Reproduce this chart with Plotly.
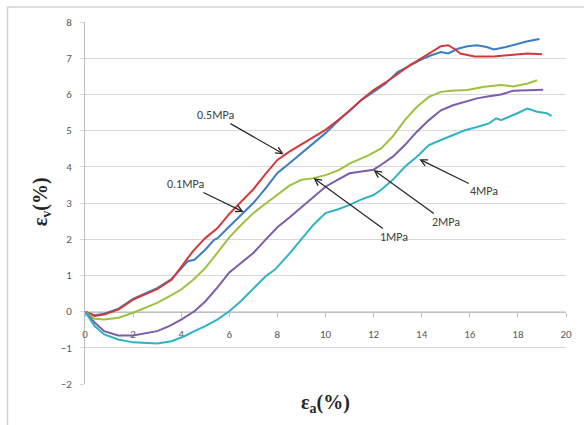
import plotly.graph_objects as go

# ---- data ----
x_01 = [0, 0.4, 0.8, 1.4, 2, 2.5, 3, 3.6, 4, 4.27, 4.55, 5, 5.37, 5.5, 6, 6.6, 7, 7.5, 8, 8.5, 9, 9.5, 10,
        10.5, 11, 11.5, 12, 12.5, 13, 13.5, 14, 14.4, 14.8, 15.1, 15.5, 15.9, 16.3, 16.7, 17.0, 17.5, 18.0, 18.4, 18.9]
y_01 = [0, -0.1, -0.06, 0.08, 0.35, 0.5, 0.65, 0.9, 1.2, 1.39, 1.43, 1.71, 1.98, 2.02, 2.35, 2.75, 3.0, 3.4, 3.83,
        4.1, 4.37, 4.65, 4.93, 5.25, 5.56, 5.85, 6.07, 6.3, 6.62, 6.8, 6.97, 7.08, 7.17, 7.13, 7.26, 7.33, 7.36, 7.31,
        7.24, 7.31, 7.4, 7.47, 7.53]

x_05 = [0, 0.4, 0.8, 1.4, 2, 2.5, 3, 3.6, 4, 4.5, 5, 5.5, 6, 6.5, 7, 7.5, 8, 8.5, 9, 9.5, 10, 10.5, 11, 11.5,
        12, 12.5, 13, 13.5, 14, 14.4, 14.8, 15.1, 15.4, 15.6, 16.2, 17, 17.7, 18.4, 19.0]
y_05 = [0, -0.12, -0.08, 0.06, 0.33, 0.48, 0.62, 0.88, 1.25, 1.68, 2.03, 2.3, 2.7, 3.05, 3.38, 3.8, 4.19, 4.42,
        4.62, 4.82, 5.02, 5.28, 5.55, 5.85, 6.12, 6.33, 6.56, 6.8, 7.0, 7.17, 7.33, 7.36, 7.24, 7.13, 7.05, 7.05,
        7.08, 7.13, 7.11]

x_1 = [0, 0.4, 0.8, 1.4, 2, 2.5, 3, 3.5, 4, 4.5, 5, 5.5, 6, 6.5, 7, 7.5, 8, 8.5, 9, 9.45, 10, 10.55, 11, 11.5,
       11.8, 12.3, 12.8, 13.3, 13.8, 14.3, 14.8, 15.2, 15.9, 16.6, 17.3, 17.8, 18.4, 18.8]
y_1 = [0, -0.2, -0.22, -0.17, -0.03, 0.1, 0.24, 0.42, 0.61, 0.88, 1.2, 1.62, 2.05, 2.4, 2.72, 2.98, 3.22, 3.48,
       3.64, 3.68, 3.77, 3.91, 4.09, 4.23, 4.32, 4.5, 4.84, 5.29, 5.66, 5.93, 6.07, 6.1, 6.12, 6.21, 6.26, 6.22,
       6.3, 6.39]

x_2 = [0, 0.4, 0.8, 1.38, 2, 2.5, 3, 3.5, 4, 4.55, 5, 5.5, 6, 6.5, 7, 7.5, 8, 8.5, 9, 9.5, 10, 10.5, 11, 11.5,
       12, 12.3, 12.8, 13.3, 13.8, 14.3, 14.8, 15.3, 15.8, 16.3, 16.8, 17.3, 17.8, 18.4, 19.05]
y_2 = [0, -0.3, -0.54, -0.66, -0.66, -0.61, -0.54, -0.4, -0.22, 0.01, 0.28, 0.66, 1.08, 1.35, 1.62, 1.98, 2.33,
       2.6, 2.88, 3.18, 3.45, 3.64, 3.82, 3.87, 3.92, 4.05, 4.28, 4.6, 4.97, 5.29, 5.56, 5.7, 5.79, 5.89, 5.95,
       6.0, 6.1, 6.12, 6.13]

x_4 = [0, 0.4, 0.8, 1.38, 2, 3, 3.6, 4.13, 4.55, 5, 5.5, 6, 6.5, 6.95, 7.5, 7.9, 8.5, 9, 9.5, 10, 10.5, 11,
       11.5, 12, 12.3, 12.8, 13.3, 13.8, 14.3, 14.8, 15.3, 15.8, 16.3, 16.8, 17.1, 17.3, 17.98, 18.39, 18.8, 19.2, 19.4]
y_4 = [0, -0.4, -0.63, -0.77, -0.85, -0.88, -0.82, -0.68, -0.54, -0.4, -0.22, 0.01, 0.3, 0.6, 0.97, 1.16, 1.6,
       2.0, 2.4, 2.72, 2.82, 2.95, 3.1, 3.22, 3.36, 3.64, 4.0, 4.28, 4.6, 4.74, 4.88, 5.01, 5.1, 5.2, 5.34, 5.29,
       5.48, 5.61, 5.52, 5.48, 5.4]

series_names = ["0.1MPa", "0.5MPa", "1MPa", "2MPa", "4MPa"]
series_colors = ["#3B7CC4", "#D23A3A", "#9CC23E", "#7D5CAB", "#30B2C6"]
series_x = [x_01, x_05, x_1, x_2, x_4]
series_y = [y_01, y_05, y_1, y_2, y_4]

x_ticks = [0, 2, 4, 6, 8, 10, 12, 14, 16, 18, 20]
y_ticks = [-2, -1, 0, 1, 2, 3, 4, 5, 6, 7, 8]

# label: (tip x, tip y, text offset ax, ay in px)
labels = [
    ("0.5MPa", 8.26, 4.35, -68, -39),
    ("0.1MPa", 6.6, 2.75, -58, -28),
    ("1MPa", 9.5, 3.69, 81, 59),
    ("2MPa", 12.0, 3.91, 72, 52),
    ("4MPa", 13.9, 4.21, 65, 32),
]

fig = go.Figure()
for nm, col, xs, ys in zip(series_names, series_colors, series_x, series_y):
    fig.add_trace(go.Scatter(x=xs, y=ys, mode="lines", name=nm,
                             line=dict(color=col, width=2)))

L, R, T, B = 85, 15, 22, 41
W, H = 584, 425
pw, ph = W - L - R, H - T - B

tick_font = dict(family="Carlito, Liberation Sans, Arial", size=11, color="#595959")

fig.update_layout(
    width=W, height=H,
    margin=dict(l=L, r=R, t=T, b=B),
    paper_bgcolor="white", plot_bgcolor="white",
    showlegend=False,
    xaxis=dict(range=[0, 20], tickvals=x_ticks, showgrid=False, zeroline=False,
               anchor="free", position=0.2, showline=True, linecolor="#BFBFBF", linewidth=1,
               ticks="outside", ticklen=4, tickcolor="#BFBFBF", tickfont=tick_font,
               ticklabelstandoff=8, layer="below traces"),
    yaxis=dict(range=[-2, 8], tickvals=y_ticks, showgrid=True, gridcolor="#D9D9D9", gridwidth=1,
               zeroline=False, showline=True, linecolor="#BFBFBF", linewidth=1,
               ticks="outside", ticklen=4, tickcolor="#D9D9D9", tickfont=tick_font,
               ticklabelstandoff=6, layer="below traces"),
)

ann = []
for txt, tx, ty, ax, ay in labels:
    ann.append(dict(x=tx, y=ty, xref="x", yref="y", text=txt, showarrow=True,
                    ax=ax, ay=ay, axref="pixel", ayref="pixel",
                    arrowhead=5, arrowsize=1.1, arrowwidth=1.2, arrowcolor="#262626",
                    font=dict(family="Carlito, Liberation Sans, Arial", size=12, color="#404040")))

title_font = dict(family="Liberation Serif, Times New Roman, serif", size=20, color="#262626")
ann.append(dict(x=(327 - L) / pw, y=(H - B - 403) / ph, xref="paper", yref="paper",
                text="<b>ε<sub>a</sub>(%)</b>", showarrow=False, font=title_font,
                xanchor="center", yanchor="middle"))
ann.append(dict(x=(42 - L) / pw, y=(H - B - 202) / ph, xref="paper", yref="paper",
                text="<b>ε<sub>v</sub>(%)</b>", showarrow=False, font=title_font, textangle=-90,
                xanchor="center", yanchor="middle"))
fig.update_layout(annotations=ann)

# outer chart frame (top and left edges visible)
fx0 = (7 - L) / pw
fy0 = (H - B - 7) / ph
fig.add_shape(type="line", xref="paper", yref="paper", x0=fx0, x1=(W + 5 - L) / pw, y0=fy0, y1=fy0,
              line=dict(color="#D0D0D0", width=1.5))
fig.add_shape(type="line", xref="paper", yref="paper", x0=fx0, x1=fx0, y0=fy0, y1=(H - B - H - 5) / ph,
              line=dict(color="#D0D0D0", width=1.5))

fig.write_html("out.html")
